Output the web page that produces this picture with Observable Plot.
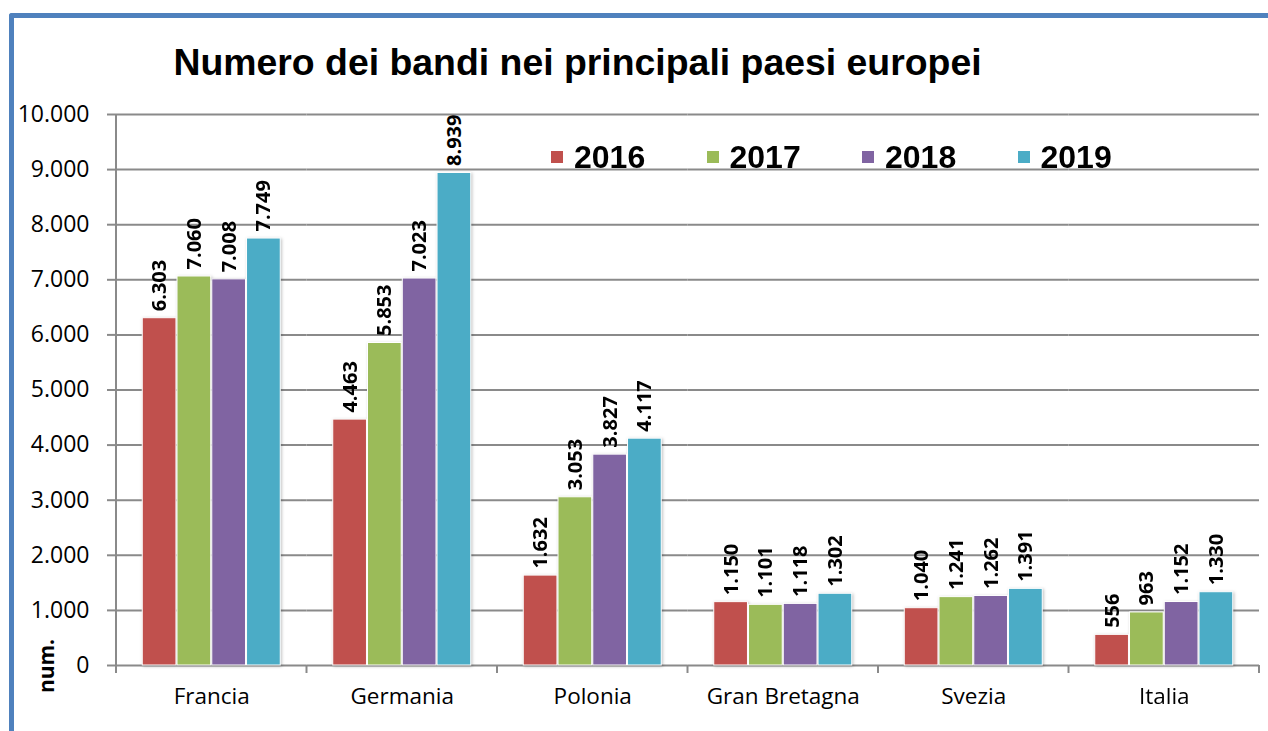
<!DOCTYPE html>
<html>
<head>
<meta charset="utf-8">
<script src="https://cdn.jsdelivr.net/npm/d3@7"></script>
<script src="https://cdn.jsdelivr.net/npm/@observablehq/plot@0.6"></script>
<style>
  html, body { margin: 0; padding: 0; background: #fff; overflow: hidden; }
  #wrap { position: relative; width: 1268px; height: 731px; overflow: hidden; background: #fff; }
  #frame { position: absolute; left: 9px; top: 13px; width: 1400px; height: 900px;
           border-left: 5px solid #4F81BD; border-top: 5px solid #4F81BD; border-top-left-radius: 3px; box-sizing: border-box; }
  #title { position: absolute; left: 0; top: 41px; width: 1155px; text-align: center;
           font: bold 37.4px/42px "Liberation Sans", Arial, sans-serif; color: #000; white-space: nowrap; }
  #chart { position: absolute; left: 0; top: 0; }
  .leg { position: absolute; font: bold 32px/36px "Liberation Sans", Arial, sans-serif; color: #000; white-space: nowrap; }
  .sw { position: absolute; width: 12px; height: 12px; }
  #ylab { position: absolute; left: 14px; top: 654px; width: 60px; height: 24px; line-height: 24px; text-align: center;
          font: bold 21px "Open Sans", sans-serif; transform: rotate(-90deg); color: #000; }
</style>
</head>
<body>
<div id="wrap">
  <div id="frame"></div>
  <div id="chart"></div>
  <div id="title"></div>
  <div id="legend"></div>
  <div id="ylab"></div>
</div>
<script>
const title = "Numero dei bandi nei principali paesi europei";
const yLabel = "num.";
const countries = ["Francia", "Germania", "Polonia", "Gran Bretagna", "Svezia", "Italia"];
const years = ["2016", "2017", "2018", "2019"];
const v2016 = [6303, 4463, 1632, 1150, 1040, 556];
const v2017 = [7060, 5853, 3053, 1101, 1241, 963];
const v2018 = [7008, 7023, 3827, 1118, 1262, 1152];
const v2019 = [7749, 8939, 4117, 1302, 1391, 1330];
const colors = ["#C0504D", "#9BBB59", "#8064A2", "#4BACC6"];
const yTicks = [0, 1000, 2000, 3000, 4000, 5000, 6000, 7000, 8000, 9000, 10000];

const series = [v2016, v2017, v2018, v2019];
const data = [];
countries.forEach((c, i) => years.forEach((yr, j) => data.push({country: c, year: yr, value: series[j][i]})));

const it = d3.formatLocale({decimal: ",", thousands: ".", grouping: [3], currency: ["€", ""]});
const fmt = it.format(",d");
const gray = "#8a8a8a";

const plot = Plot.plot({
  width: 1268, height: 731,
  marginTop: 114, marginBottom: 66, marginLeft: 116, marginRight: 9,
  style: {fontFamily: "'Open Sans', sans-serif", fontSize: "23px", color: "#000", background: "transparent", overflow: "visible"},
  fx: {domain: countries, padding: 0, round: false, label: null},
  x: {domain: years, paddingInner: 0.03, paddingOuter: 0.755, round: false, axis: null},
  y: {domain: [0, 10000], label: null},
  color: {domain: years, range: colors},
  marks: [
    Plot.ruleY(yTicks, {stroke: gray, strokeWidth: 2}),
    Plot.barY(data, {fx: "country", x: "year", y: "value", fill: "year", stroke: "white", strokeWidth: 1}),
    Plot.text(data, {fx: "country", x: "year", y: "value", text: d => fmt(d.value), rotate: -90,
      textAnchor: "start", dy: -7, fontWeight: "bold", fontSize: 20, fill: "#000"}),
    Plot.axisY(yTicks, {tickFormat: fmt, tickSize: 9, tickPadding: 18, stroke: gray, strokeWidth: 2, label: null, fontSize: 23}),
    Plot.axisFx({anchor: "bottom", tickSize: 0, tickPadding: 23, label: null, fontSize: 22.5})
  ]
});
document.getElementById("chart").appendChild(plot);

// Excel-like axis line and category separator ticks, placed with the plot's own scales
const svg = d3.select(plot);
const fxs = plot.scale("fx"), ys = plot.scale("y");
const y0 = ys.apply(0), yTop = ys.apply(10000);
const xStart = fxs.apply(countries[0]);
const xEnd = fxs.apply(countries[countries.length - 1]) + fxs.bandwidth;
const bounds = countries.map(c => fxs.apply(c)).concat([xEnd]);
const g = svg.append("g").attr("stroke", gray).attr("stroke-width", 2);
g.append("line").attr("x1", xStart).attr("x2", xStart).attr("y1", yTop).attr("y2", y0 + 8);
bounds.forEach(b => g.append("line").attr("x1", b).attr("x2", b).attr("y1", y0).attr("y2", y0 + 8));
svg.selectAll('g[aria-label="bar"]').style("filter", "drop-shadow(1.5px 1px 1.5px rgba(0,0,0,0.25))");

document.getElementById("title").textContent = title;
document.getElementById("ylab").textContent = yLabel;
const leg = document.getElementById("legend");
years.forEach((yr, j) => {
  const left = 551 + 155.5 * j;
  const sw = document.createElement("div");
  sw.className = "sw"; sw.style.left = left + "px"; sw.style.top = "151px"; sw.style.background = colors[j];
  leg.appendChild(sw);
  const t = document.createElement("div");
  t.className = "leg"; t.style.left = (left + 23) + "px"; t.style.top = "139px"; t.textContent = yr;
  leg.appendChild(t);
});
</script>
</body>
</html>
